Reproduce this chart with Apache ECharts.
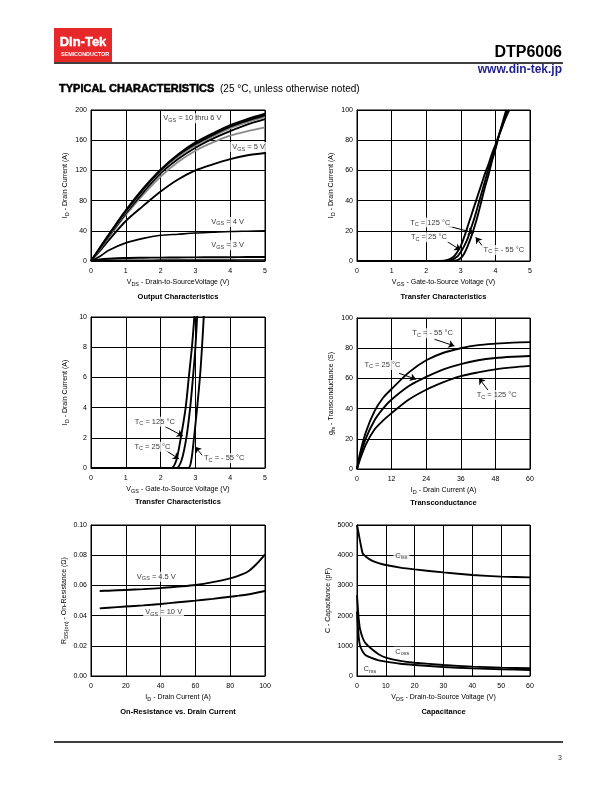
<!DOCTYPE html>
<html><head><meta charset="utf-8">
<script src="https://cdn.jsdelivr.net/npm/echarts@6/dist/echarts.min.js"></script>
<style>html,body{margin:0;padding:0;background:#fff}#c{width:612px;height:792px}</style>
</head><body><div id="c"></div>
<script>
// ---------- DATA ----------
// Output characteristics: I_D (A) vs V_DS (V)
const outVds = [0, 0.25, 0.5, 1, 1.5, 2, 2.5, 3, 3.5, 4, 4.5, 5];
const outVgs10 = [0, 17, 34, 67, 96, 121, 141, 157, 169, 180, 188, 195];
const outVgs9  = [0, 17, 34, 66, 95, 120, 140, 155, 167, 178, 186, 193];
const outVgs8  = [0, 16, 33, 65, 94, 119, 138, 153, 165, 176, 184, 191];
const outVgs7  = [0, 16, 32, 63, 91, 116, 135, 150, 162, 172, 181, 188];
const outVgs6  = [0, 15, 31, 61, 88, 112, 131, 146, 157, 166, 172, 177];
const outVgs5  = [0, 13, 27, 53, 73, 92, 108, 120, 128, 135, 140, 143];
const outVgs4  = [0, 6, 14, 24, 30, 34, 35.5, 37, 38, 39, 39.5, 40];
const outVgs3  = [0, 2, 3, 4, 4.3, 4.5, 4.7, 4.8, 5, 5, 5.2, 5.3];
const outVgs2  = [0, 0.5, 0.8, 1, 1, 1.1, 1.1, 1.2, 1.2, 1.2, 1.3, 1.3];

// Transfer characteristics (0-100 A): [V_GS, I_D]
const xfer125 = [[0,0],[2.4,0],[2.6,0.5],[2.8,3],[2.9,6],[3.0,10],[3.1,16],[3.2,23],[3.3,30],[3.4,37],[3.5,44],[3.6,51],[3.7,58],[3.8,64],[3.9,71],[4.0,77],[4.1,83],[4.2,89],[4.3,95],[4.4,100]];
const xfer25  = [[0,0],[2.5,0],[2.7,0.5],[2.9,3],[3.0,6],[3.1,10],[3.2,15],[3.3,22],[3.4,29],[3.5,37],[3.6,45],[3.7,53],[3.8,61],[3.9,68],[4.0,75],[4.1,83],[4.2,90],[4.3,97],[4.35,100]];
const xferM55 = [[0,0],[2.7,0],[2.9,0.5],[3.0,2],[3.1,5],[3.2,10],[3.3,16],[3.4,23],[3.5,31],[3.6,40],[3.7,49],[3.8,57],[3.9,66],[4.0,74],[4.1,83],[4.2,91],[4.3,99],[4.32,100]];

// Transfer characteristics (0-10 A): [V_GS, I_D]
const lowXfer125 = [[0,0],[2.31,0],[2.45,0.5],[2.58,2],[2.72,4],[2.81,6],[2.9,8],[2.97,10],[3.0,11]];
const lowXfer25  = [[0,0],[2.45,0],[2.6,0.5],[2.74,2],[2.85,4],[2.93,6],[3.0,8],[3.05,10],[3.08,11]];
const lowXferM55 = [[0,0],[2.79,0],[2.88,0.5],[2.96,2],[3.05,4],[3.13,6],[3.19,8],[3.24,10],[3.27,11]];

// Transconductance: g_fs (S) vs I_D (A)
const gfsId   = [0, 1, 3, 6, 9, 12, 18, 24, 30, 36, 42, 48, 54, 60];
const gfsM55  = [0, 10, 24, 38, 47, 53, 64, 72, 77, 80, 82, 83, 83.7, 84];
const gfs25   = [0, 8, 20, 32, 40, 46, 55, 61, 66, 69.5, 72, 73.5, 74.3, 74.8];
const gfs125  = [0, 6, 16, 26, 32, 37, 46, 52.5, 57.5, 61.5, 64, 66, 67.3, 68.3];

// On-resistance: R_DS(on) (ohm) vs I_D (A)
const rdsId   = [5, 10, 20, 30, 40, 50, 60, 70, 80, 85, 90, 95, 100];
const rdsVgs45 = [0.0563, 0.0565, 0.0570, 0.0575, 0.0582, 0.0592, 0.0603, 0.0622, 0.0647, 0.0665, 0.069, 0.074, 0.0806];
const rdsVgs10 = [0.0448, 0.0452, 0.0460, 0.0468, 0.0477, 0.0488, 0.0499, 0.0511, 0.0525, 0.0532, 0.0540, 0.0551, 0.0563];

// Capacitance (pF) vs V_DS (V)
const capVds = [0, 0.5, 1, 2, 3, 5, 7.5, 10, 15, 20, 30, 40, 50, 60];
const capCiss = [5000, 4750, 4500, 4050, 3960, 3830, 3740, 3675, 3590, 3530, 3430, 3345, 3290, 3265];
const capCoss = [2680, 2000, 1580, 1250, 1080, 900, 720, 610, 500, 440, 365, 310, 278, 255];
const capCrss = [2130, 1400, 1030, 800, 690, 600, 520, 475, 405, 364, 298, 254, 222, 200];

// Tick settings
const outTicks = {xMin:0, xMax:5, xInt:1, yMin:0, yMax:200, yInt:40};
const xferTicks = {xMin:0, xMax:5, xInt:1, yMin:0, yMax:100, yInt:20};
const lowXferTicks = {xMin:0, xMax:5, xInt:1, yMin:0, yMax:10, yInt:2};
const gfsTicks = {xMin:0, xMax:60, xInt:12, yMin:0, yMax:100, yInt:20};
const rdsTicks = {xMin:0, xMax:100, xInt:20, yMin:0, yMax:0.1, yInt:0.02};
const capTicks = {xMin:0, xMax:60, xInt:10, yMin:0, yMax:5000, yInt:1000};

// ---------- STYLE / LAYOUT ----------
const FF = '"Liberation Sans", Arial, Helvetica, sans-serif';
const SUB = {s: {fontSize: 5.5, lineHeight: 5.5, verticalAlign: 'bottom', fontFamily: FF, color: '#000'}};
const NAME_STYLE = {fontSize: 7, lineHeight: 10, color: '#000', fontFamily: FF, rich: SUB};
const plain = v => String(Math.round(v * 1000) / 1000);

const grids = [
  {left: 91, top: 110, width: 174, height: 151},
  {left: 357, top: 110, width: 173, height: 151},
  {left: 91, top: 317, width: 174, height: 151},
  {left: 357, top: 318, width: 173, height: 151},
  {left: 91, top: 525, width: 174, height: 151},
  {left: 357, top: 525, width: 173, height: 151}
].map(g => Object.assign({show: true, borderColor: '#000', borderWidth: 1, backgroundColor: 'transparent'}, g));

function xAx(gi, t, name) {
  return {gridIndex: gi, type: 'value', min: t.xMin, max: t.xMax, interval: t.xInt,
    name: name, nameLocation: 'middle', nameGap: 16, nameTextStyle: NAME_STYLE,
    axisLine: {show: true, onZero: false, lineStyle: {color: '#000', width: 1}},
    axisTick: {show: false},
    axisLabel: {fontSize: 7, color: '#000', margin: 7, fontFamily: FF, formatter: plain},
    splitLine: {show: true, lineStyle: {color: '#000', width: 1}}};
}
function yAx(gi, t, name, fmt) {
  return {gridIndex: gi, type: 'value', min: t.yMin, max: t.yMax, interval: t.yInt,
    name: name, nameLocation: 'middle', nameGap: 21, nameTextStyle: NAME_STYLE,
    axisLine: {show: true, onZero: false, lineStyle: {color: '#000', width: 1}},
    axisTick: {show: false},
    axisLabel: {fontSize: 7, color: '#000', margin: 4, fontFamily: FF, formatter: fmt || plain},
    splitLine: {show: true, lineStyle: {color: '#000', width: 1}}};
}
function zip(xs, ys) { return xs.map((x, i) => [x, ys[i]]); }
function line(gi, data, color, width, smooth) {
  return {type: 'line', xAxisIndex: gi, yAxisIndex: gi, data: data, showSymbol: false, symbol: 'none',
    smooth: smooth === undefined ? 0.3 : smooth, clip: true, silent: true, z: 3,
    lineStyle: {color: color, width: width || 1.9}};
}
function note(gi, pos, text, arrows) {
  const s = {type: 'scatter', xAxisIndex: gi, yAxisIndex: gi, data: [pos], symbolSize: 0.01,
    itemStyle: {color: 'rgba(0,0,0,0)'}, silent: true, z: 6,
    label: {show: true, position: 'right', distance: 0, formatter: text, fontSize: 7.5, lineHeight: 10,
      color: '#000', fontFamily: FF, backgroundColor: '#fff', padding: [0, 2], rich: SUB}};
  if (arrows) {
    s.markLine = {silent: true, symbol: ['none', 'arrow'], symbolSize: 6, animation: false,
      lineStyle: {color: '#000', width: 1, type: 'solid'}, label: {show: false},
      data: arrows.map(a => [{coord: a[0]}, {coord: a[1]}])};
  }
  return s;
}

const GRAY = '#8a8a8a';
const series = [
  line(0, zip(outVds, outVgs2), '#000', 1.6),
  line(0, zip(outVds, outVgs3), '#000', 1.9),
  line(0, zip(outVds, outVgs4), '#000', 1.6),
  line(0, zip(outVds, outVgs5), '#000', 1.9),
  line(0, zip(outVds, outVgs6), GRAY, 1.9),
  line(0, zip(outVds, outVgs7), '#000', 1.9),
  line(0, zip(outVds, outVgs8), GRAY, 1.9),
  line(0, zip(outVds, outVgs9), '#000', 1.9),
  line(0, zip(outVds, outVgs10), '#000', 2),
  note(0, [2.02, 189], 'V{s|GS} = 10 thru 6 V'),
  note(0, [4.0, 151], 'V{s|GS} = 5 V'),
  note(0, [3.4, 51.7], 'V{s|GS} = 4 V'),
  note(0, [3.4, 21], 'V{s|GS} = 3 V'),

  line(1, xfer125, '#000'),
  line(1, xfer25, '#000'),
  line(1, xferM55, '#000'),
  note(1, [1.48, 25.5], 'T{s|C} = 125 °C', [[[2.62, 23.2], [3.38, 18.7]]]),
  note(1, [1.5, 15.7], 'T{s|C} = 25 °C', [[[2.61, 12.8], [2.99, 7.3]]]),
  note(1, [3.6, 7.3], 'T{s|C} = - 55 °C', [[[3.64, 9.5], [3.43, 15.7]]]),

  line(2, lowXfer125, '#000'),
  line(2, lowXfer25, '#000'),
  line(2, lowXferM55, '#000'),
  note(2, [1.2, 3.07], 'T{s|C} = 125 °C', [[[2.13, 2.74], [2.64, 2.12]]]),
  note(2, [1.19, 1.41], 'T{s|C} = 25 °C', [[[2.13, 1.19], [2.53, 0.6]]]),
  note(2, [3.19, 0.64], 'T{s|C} = - 55 °C', [[[3.23, 0.75], [2.99, 1.41]]]),

  line(3, zip(gfsId, gfsM55), '#000'),
  line(3, zip(gfsId, gfs25), '#000'),
  line(3, zip(gfsId, gfs125), '#000'),
  note(3, [18.5, 89.9], 'T{s|C} = - 55 °C', [[[26.9, 85.9], [33.8, 81.5]]]),
  note(3, [1.9, 68.9], 'T{s|C} = 25 °C', [[[14.6, 63.4], [20.5, 59.4]]]),
  note(3, [40.8, 49], 'T{s|C} = 125 °C', [[[45.4, 52.3], [42.3, 60.1]]]),

  line(4, zip(rdsId, rdsVgs45), '#000'),
  line(4, zip(rdsId, rdsVgs10), '#000'),
  note(4, [25.2, 0.0658], 'V{s|GS} = 4.5 V'),
  note(4, [30, 0.0422], 'V{s|GS} = 10 V'),

  line(5, zip(capVds, capCiss), '#000', 1.9, 0.2),
  line(5, zip(capVds, capCoss), '#000', 1.9, 0.2),
  line(5, zip(capVds, capCrss), '#000', 1.9, 0.2),
  note(5, [12.6, 3980], 'C{s|iss}'),
  note(5, [12.6, 805], 'C{s|oss}'),
  note(5, [1.6, 232], 'C{s|rss}')
];

const xAxes = [
  xAx(0, outTicks, 'V{s|DS} - Drain-to-SourceVoltage (V)'),
  xAx(1, xferTicks, 'V{s|GS} - Gate-to-Source Voltage (V)'),
  xAx(2, lowXferTicks, 'V{s|GS} - Gate-to-Source Voltage (V)'),
  xAx(3, gfsTicks, 'I{s|D} - Drain Current (A)'),
  xAx(4, rdsTicks, 'I{s|D} - Drain Current (A)'),
  xAx(5, capTicks, 'V{s|DS} - Drain-to-Source Voltage (V)')
];
const yAxes = [
  yAx(0, outTicks, 'I{s|D} - Drain Current (A)'),
  yAx(1, xferTicks, 'I{s|D} - Drain Current (A)'),
  yAx(2, lowXferTicks, 'I{s|D} - Drain Current (A)'),
  yAx(3, gfsTicks, 'g{s|fs} - Transconductance (S)'),
  yAx(4, rdsTicks, 'R{s|DS(on)} - On-Resistance (Ω)', v => v.toFixed(2)),
  yAx(5, capTicks, 'C - Capacitance (pF)')
];

function txt(x, y, text, font, align, fill, stroke) {
  const st = {x: x, y: y, text: text, font: font, fill: fill || '#000',
    align: align || 'left', verticalAlign: 'middle'};
  if (stroke) { st.stroke = fill || '#000'; st.lineWidth = stroke; }
  return {type: 'text', silent: true, style: st};
}
const CAP = 'bold 7.5px ' + FF;
const graphic = [
  {type: 'rect', silent: true, shape: {x: 54, y: 28, width: 58, height: 34}, style: {fill: '#e6282b'}},
  txt(83, 42.5, 'Din-Tek', 'bold 13px ' + FF, 'center', '#fff', 0.4),
  txt(85, 54.5, 'SEMICONDUCTOR', 'bold 5.4px ' + FF, 'center', '#fff'),
  {type: 'line', silent: true, shape: {x1: 54, y1: 63, x2: 563, y2: 63}, style: {stroke: '#000', lineWidth: 1.3}},
  txt(562, 52.5, 'DTP6006', 'bold 16px ' + FF, 'right'),
  txt(562, 69.5, 'www.din-tek.jp', 'bold 12px ' + FF, 'right', '#1f1f8c'),
  txt(59, 89, 'TYPICAL CHARACTERISTICS', 'bold 11px ' + FF, 'left', '#000', 0.5),
  txt(220, 89, '(25 °C, unless otherwise noted)', '10px ' + FF, 'left'),
  txt(178, 296.5, 'Output Characteristics', CAP, 'center'),
  txt(443.5, 296.5, 'Transfer Characteristics', CAP, 'center'),
  txt(178, 502, 'Transfer Characteristics', CAP, 'center'),
  txt(443.5, 503, 'Transconductance', CAP, 'center'),
  txt(178, 711.5, 'On-Resistance vs. Drain Current', CAP, 'center'),
  txt(443.5, 711.5, 'Capacitance', CAP, 'center'),
  {type: 'line', silent: true, shape: {x1: 54, y1: 742, x2: 563, y2: 742}, style: {stroke: '#000', lineWidth: 1.3}},
  txt(562, 758, '3', '7px ' + FF, 'right', '#333')
];

const chart = echarts.init(document.getElementById('c'), null, {renderer: 'canvas'});
chart.setOption({
  animation: false,
  backgroundColor: '#fff',
  textStyle: {fontFamily: FF},
  grid: grids,
  xAxis: xAxes,
  yAxis: yAxes,
  series: series,
  graphic: graphic
});
</script></body></html>
